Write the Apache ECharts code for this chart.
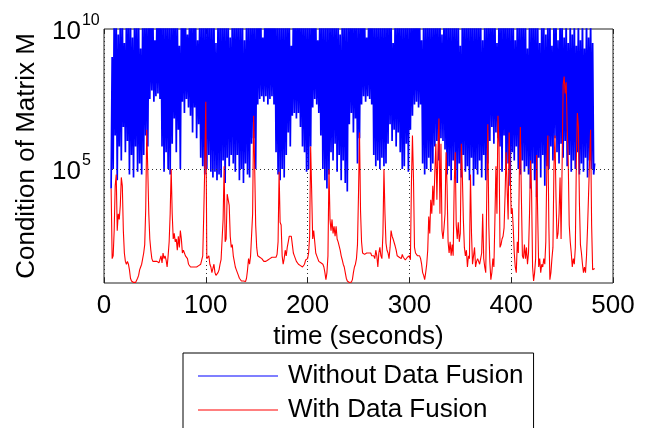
<!DOCTYPE html>
<html><head><meta charset="utf-8">
<script src="https://cdn.jsdelivr.net/npm/echarts@6/dist/echarts.min.js"></script>
<style>html,body{margin:0;padding:0;background:#fff;}#c{width:646px;height:428px;}</style>
</head><body><div id="c"></div>
<script>
// time of first sample (seconds); samples every second
const startTime = 7;
const xTicks = [0, 100, 200, 300, 400, 500];
const yTickExponents = [5, 10];
const seriesNames = ['Without Data Fusion', 'With Data Fusion'];
// log10 of condition number
const blueLog10 = [
4.3,9.0,5.0,10.5,6.2,10.5,4.6,9.8,5.8,10.5,
5.3,10.5,6.5,9.5,5.6,10.5,6.0,10.5,4.8,10.5,
5.5,9.7,4.7,10.5,5.8,10.5,4.9,10.5,5.2,9.3,
4.8,10.5,5.5,10.5,6.2,10.5,5.8,10.5,7.5,10.5,
7.8,10.5,7.4,9.6,7.6,10.5,7.7,10.5,7.5,10.5,
5.8,10.5,4.9,10.5,5.6,10.5,5.0,10.5,4.8,10.5,
5.9,10.5,6.8,10.5,5.6,10.5,6.4,9.4,5.0,10.5,
7.4,10.5,7.0,10.5,7.5,9.8,7.2,10.5,6.9,10.5,
6.3,10.5,7.2,10.5,6.1,9.6,6.6,10.5,5.4,10.5,
5.1,10.5,4.8,10.5,5.0,10.5,5.5,10.5,4.9,10.5,
4.7,10.5,4.9,9.5,4.6,10.5,4.8,10.5,4.7,10.5,
5.3,10.5,4.5,10.5,5.4,10.5,5.1,9.7,5.5,10.5,
5.2,10.5,4.9,10.5,5.5,10.5,4.6,10.5,5.0,10.5,
4.5,9.6,5.2,10.5,4.8,10.5,4.7,10.5,5.9,10.5,
6.1,10.5,5.0,10.5,7.3,10.5,7.5,10.5,7.6,9.7,
7.4,10.5,7.6,10.5,7.3,10.5,7.5,10.5,7.6,10.5,
7.3,10.5,5.6,10.5,4.8,10.5,4.6,10.5,5.0,10.5,
4.7,10.5,5.5,10.5,6.3,10.5,5.8,9.4,6.9,10.5,
7.0,10.5,6.8,10.5,7.0,10.5,6.5,10.5,5.8,10.5,
5.6,10.5,4.9,10.5,5.0,10.5,5.8,10.5,7.2,10.5,
7.5,10.5,7.3,9.6,7.0,10.5,6.2,10.5,5.0,10.5,
4.6,10.5,4.3,10.5,4.8,10.5,5.6,10.5,5.3,10.5,
5.9,10.5,4.9,10.5,5.5,9.8,4.6,10.5,5.3,10.5,
4.5,10.5,4.2,10.5,6.6,10.5,7.0,10.5,6.3,10.5,
6.8,10.5,5.2,10.5,6.1,10.5,7.3,10.5,7.6,10.5,
7.4,9.7,7.6,10.5,7.5,10.5,7.3,10.5,5.5,10.5,
5.1,10.5,5.3,10.5,5.0,10.5,5.4,10.5,5.1,10.5,
5.2,10.5,5.9,10.5,6.6,10.5,6.0,9.5,6.4,10.5,
5.8,10.5,6.3,10.5,5.6,10.5,5.0,10.5,5.1,10.5,
5.9,10.5,4.9,10.5,6.4,10.5,6.9,10.5,7.3,10.5,
7.4,10.5,7.2,10.5,7.3,9.6,5.2,10.5,4.8,10.5,
5.0,10.5,5.4,10.5,4.9,10.5,5.2,10.5,5.8,10.5,
6.0,10.5,5.3,10.5,6.1,9.8,6.0,10.5,5.7,10.5,
4.8,10.5,5.1,10.5,4.6,10.5,5.3,10.5,5.0,10.5,
4.5,10.5,5.2,9.4,4.7,10.5,5.5,10.5,4.9,10.5,
5.1,10.5,4.6,10.5,5.4,10.5,4.4,10.5,5.0,10.5,
4.8,10.5,5.3,10.5,4.7,9.6,5.5,10.5,4.6,10.5,
5.2,10.5,6.0,10.5,6.5,10.5,5.9,10.5,6.3,9.5,
6.1,10.5,5.8,10.5,4.9,10.5,6.2,10.5,5.0,10.5,
5.2,10.5,4.4,10.5,5.6,10.5,5.3,9.6,5.8,10.5,
5.0,10.5,4.8,10.5,5.3,10.5,4.9,10.5,5.1,9.3,
4.8,10.5,4.3,10.5,5.2,10.5,4.6,10.5,4.0,10.5,
5.4,9.5,4.7,10.5,5.5,10.5,4.4,9.8,5.1,10.5,
5.0,10.5,5.8,9.4,5.3,10.5,6.1,10.5,5.6,9.6,
5.2,10.5,5.9,10.5,5.4,9.7,6.0,10.5,5.1,9.5,
5.5,10.5,4.9,9.8,5.3,10.5,5.0,9.4,5.6,10.5,
4.8,9.6,5.2,10.5,4.9,9.3,5.4,10.5,4.7,9.7,
5.3,10.5,5.0,9.5,4.8,5.2
];
const redLog10 = [
4.3,1.8,1.9,2.8,4.4,4.8,2.8,3.4,3.2,3.7,
4.7,4.4,2.8,2.0,1.7,1.6,1.7,1.6,1.4,1.1,
1.0,0.95,0.95,1.0,0.95,1.0,1.1,1.2,1.4,1.5,
1.6,1.8,2.0,2.3,3.6,6.4,5.0,3.4,2.5,2.1,
1.8,1.7,1.7,1.7,1.65,1.7,1.7,1.65,1.7,1.9,
1.65,2.0,1.8,1.9,1.75,1.5,1.9,2.4,3.4,5.0,
3.4,2.5,2.7,2.4,2.5,2.1,2.6,2.2,2.8,2.5,
2.0,2.1,2.0,1.9,1.9,1.8,1.6,1.55,1.5,1.5,
1.5,1.5,1.5,1.5,1.5,1.5,1.55,1.6,1.6,1.65,
1.9,3.4,5.1,7.4,1.8,1.8,1.9,1.6,1.5,1.3,
1.35,1.6,1.3,1.2,1.2,1.3,1.4,1.6,1.76,1.7,
3.2,5.1,2.4,2.5,4.1,4.1,3.7,2.6,2.2,2.3,
1.9,1.7,1.5,1.4,1.3,1.2,1.1,1.05,1.0,0.98,
1.0,0.98,0.98,1.1,1.4,1.8,1.6,1.9,1.9,3.4,
6.9,5.1,3.0,2.2,1.9,1.9,1.85,1.85,1.8,1.75,
1.7,1.7,1.7,1.75,1.75,1.75,1.8,1.8,1.85,1.85,
1.85,1.85,1.85,1.95,2.4,4.9,3.1,3.0,1.9,1.6,
1.8,2.1,1.9,2.2,2.4,2.6,2.65,2.6,2.3,2.0,
1.9,1.9,1.7,1.65,1.6,1.55,1.55,1.5,1.5,1.55,
1.6,1.75,1.8,1.8,2.0,2.6,5.8,4.2,2.5,2.8,
2.4,2.0,1.9,1.85,1.7,1.65,1.65,1.65,1.6,1.5,
1.3,1.05,1.3,1.9,5.0,3.2,2.8,3.2,2.7,2.95,
2.6,2.95,2.5,2.4,2.35,2.1,1.9,1.76,1.6,1.5,
1.3,1.1,1.0,0.95,0.95,0.95,0.96,1.05,1.3,1.5,
1.6,1.8,2.3,4.1,6.3,3.5,2.4,2.0,2.0,1.95,
1.95,2.0,2.0,2.0,2.0,2.0,1.9,1.9,1.9,1.8,
2.1,1.9,1.5,2.0,2.2,1.9,1.8,2.7,5.0,3.4,
2.35,2.1,2.0,1.8,2.2,2.8,2.6,2.5,2.5,2.25,
2.1,1.9,1.85,1.85,1.8,1.8,1.95,1.85,1.85,1.75,
1.75,1.85,1.9,1.9,1.76,4.5,6.2,4.7,2.2,2.0,
2.0,1.9,1.9,1.9,1.8,1.6,1.3,1.2,1.05,1.3,
1.6,2.1,3.3,2.7,3.9,3.4,4.4,3.7,4.9,5.9,
3.9,5.6,6.8,3.4,5.9,2.8,2.5,2.9,3.4,5.6,
4.4,2.4,2.0,2.4,1.9,2.3,1.9,4.4,5.6,3.0,
2.5,3.1,2.4,2.7,5.9,4.8,3.2,2.2,1.9,2.1,
1.5,1.9,1.8,4.8,2.7,1.6,1.9,2.2,1.5,1.7,
1.8,1.75,1.6,1.8,2.0,3.4,1.8,1.5,1.3,4.1,
6.6,3.0,1.7,1.05,1.3,1.8,1.5,3.2,5.1,3.4,
6.9,5.9,2.2,2.3,2.5,2.6,2.9,4.1,5.6,4.3,
3.2,6.3,4.9,3.4,3.6,2.9,2.0,1.5,1.3,2.4,
2.0,4.9,6.5,4.0,1.9,1.8,2.3,1.8,2.2,1.6,
2.0,3.4,5.3,4.2,1.5,1.0,1.3,1.8,5.5,3.4,
1.5,1.8,1.3,1.6,1.5,1.8,1.6,2.4,5.1,6.2,
2.95,1.05,1.3,1.8,2.2,5.1,6.2,4.0,2.5,2.7,
3.4,4.7,2.5,5.1,8.0,8.3,7.7,8.1,6.5,5.3,
3.0,2.4,2.0,1.5,1.8,1.6,2.2,5.3,7.0,6.5,
3.8,2.3,2.0,1.6,1.3,1.5,1.3,1.9,2.9,4.1,
5.3,6.4,3.0,1.4,1.35,1.45
];

const FONT = '"Liberation Sans", Arial, Helvetica, sans-serif';
function toPairs(logs) { return logs.map((e, i) => [startTime + i, Math.pow(10, e)]); }

const chart = echarts.init(document.getElementById('c'), null, {renderer: 'canvas'});
chart.setOption({
  animation: false,
  backgroundColor: '#fff',
  textStyle: {fontFamily: FONT},
  grid: {left: 104, right: 33, top: 29, bottom: 145, show: true, borderColor: '#222', borderWidth: 1, backgroundColor: 'transparent'},
  legend: {
    type: 'plain', data: seriesNames, orient: 'vertical', left: 183, top: 353, height: 120,
    icon: 'rect', itemWidth: 80, itemHeight: 1, itemGap: 4,
    padding: [8, 10, 12, 15], borderColor: '#000', borderWidth: 1, backgroundColor: '#fff',
    textStyle: {fontSize: 26, color: '#000', lineHeight: 30, padding: [0, 0, 0, 5], fontFamily: FONT}
  },
  xAxis: [{
    type: 'value', min: xTicks[0], max: xTicks[xTicks.length - 1], interval: 100,
    axisLine: {show: false},
    axisTick: {inside: true, length: 5, lineStyle: {color: '#222'}},
    axisLabel: {margin: 10, fontSize: 26, color: '#000', fontFamily: FONT},
    splitLine: {show: true, lineStyle: {type: [1, 3], color: '#333', width: 1}},
    name: 'time (seconds)', nameLocation: 'middle', nameGap: 37,
    nameTextStyle: {fontSize: 26, color: '#000', fontFamily: FONT}
  }, {
    type: 'value', position: 'top', min: xTicks[0], max: xTicks[xTicks.length - 1], interval: 100,
    axisLine: {show: false}, axisTick: {inside: true, length: 5, lineStyle: {color: '#222'}},
    axisLabel: {show: false}, splitLine: {show: false}
  }],
  yAxis: [{
    type: 'log', logBase: 10, min: 8.5, max: 1e10,
    axisLine: {show: false}, axisTick: {show: false}, splitLine: {show: false},
    axisLabel: {
      margin: 52, align: 'left', color: '#000',
      formatter: function (v) {
        const l = Math.log10(v), e = Math.round(l);
        if (Math.abs(l - e) > 1e-6 || yTickExponents.indexOf(e) < 0) return '';
        return '{b|10}{s|' + e + '}';
      },
      rich: {
        b: {fontSize: 26, color: '#000', fontFamily: FONT, lineHeight: 32, verticalAlign: 'bottom'},
        s: {fontSize: 16, color: '#000', fontFamily: FONT, lineHeight: 32, verticalAlign: 'top', padding: [0, 0, 0, 1]}
      }
    },
    name: 'Condition of Matrix M', nameLocation: 'middle', nameGap: 64,
    nameTextStyle: {fontSize: 26, color: '#000', fontFamily: FONT}
  }],
  series: [{
    name: 'grid', type: 'line', data: [], z: 1, silent: true,
    markLine: {silent: true, symbol: 'none', label: {show: false},
      lineStyle: {type: [1, 3], color: '#333', width: 1},
      data: [{yAxis: Math.pow(10, yTickExponents[0])}]}
  }, {
    name: seriesNames[0], type: 'line', data: toPairs(blueLog10), showSymbol: false, symbol: 'none',
    lineStyle: {color: '#0000ff', width: 1.7}, itemStyle: {color: '#0000ff'}, z: 2, clip: true
  }, {
    name: seriesNames[1], type: 'line', data: toPairs(redLog10), showSymbol: false, symbol: 'none',
    lineStyle: {color: '#ff0000', width: 1.1}, itemStyle: {color: '#ff0000'}, z: 3, clip: true
  }]
});
</script></body></html>
